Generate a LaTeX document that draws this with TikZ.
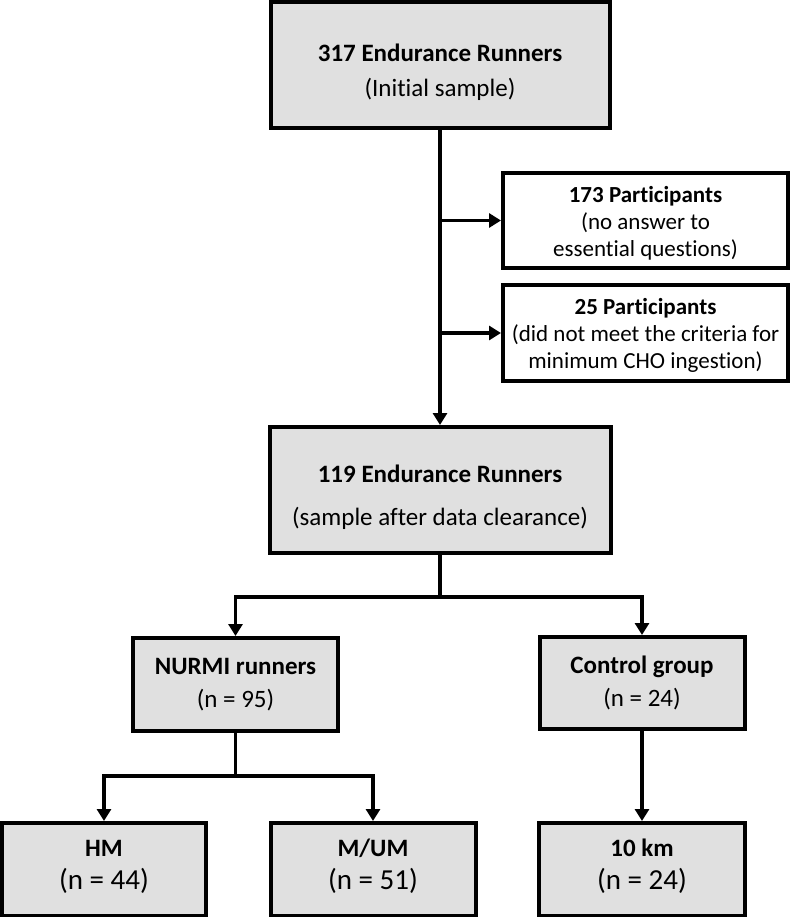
\documentclass[tikz,border=0pt]{standalone}
\usepackage{fontspec}
\setmainfont{Carlito}[Ligatures=NoCommon]
\usetikzlibrary{arrows.meta}
\definecolor{boxgray}{RGB}{224,224,224}
\newcommand{\nline}[1]{{\fontsize{29}{33}\selectfont #1}}
\begin{document}
\begin{tikzpicture}[x=1pt,y=-1pt,
 graybox/.style={draw=black, line width=4pt, fill=boxgray, inner sep=0pt, align=center},
 whitebox/.style={draw=black, line width=4pt, fill=white, inner sep=0pt, align=center},
 conn/.style={line width=3.5pt},
 arr/.style={line width=3.5pt, -{Triangle[width=14pt,length=12pt]}},
 bigfont/.style={font=\fontsize{25}{33}\selectfont, align=center},
 sidefont/.style={font=\fontsize{23}{27}\selectfont, align=center}]
\useasboundingbox (0,0) rectangle (790,917);

% top box
\node[graybox, minimum width=339pt, minimum height=126pt] (top) at (440,65) {};
\node[bigfont] (toptxt) at (440,72) {\textbf{317 Endurance Runners}\\[2pt](Initial sample)};

% exclusion boxes
\node[whitebox, minimum width=285pt, minimum height=95pt] (ex1) at (645.5,220.5) {};
\node[sidefont] (ex1txt) at (645.5,223)
  {\textbf{173 Participants}\\(no answer to\\essential questions)};
\node[whitebox, minimum width=285pt, minimum height=96pt] (ex2) at (645.5,333) {};
\node[sidefont] (ex2txt) at (645.5,335.5)
  {\textbf{25 Participants}\\(did not meet the criteria for\\minimum CHO ingestion)};

% after clearance
\node[graybox, minimum width=341pt, minimum height=126pt] (mid) at (440,490) {};
\node[bigfont] (midtxt) at (440,497) {\textbf{119 Endurance Runners}\\[10pt](sample after data clearance)};

% groups
\node[graybox, bigfont, minimum width=205pt, minimum height=93pt] (nurmi) at (235.5,684.5)
  {\textbf{NURMI runners}\\(n = 95)};
\node[graybox, bigfont, minimum width=205pt, minimum height=92pt] (ctrl) at (642,683)
  {\textbf{Control group}\\(n = 24)};

% bottom boxes
\node[graybox, minimum width=204pt, minimum height=93pt] (hm) at (104,869.5) {};
\node[bigfont] (hmtxt) at (104,866.5) {\textbf{HM}\\\nline{(n = 44)}};
\node[graybox, minimum width=205pt, minimum height=93pt] (mum) at (373,869.5) {};
\node[bigfont] (mumtxt) at (373,866.5) {\textbf{M/UM}\\\nline{(n = 51)}};
\node[graybox, minimum width=206pt, minimum height=93pt] (tenk) at (642,869.5) {};
\node[bigfont] (tenktxt) at (642,866.5) {\textbf{10 km}\\\nline{(n = 24)}};

% connectors
\draw[arr] (top.south) -- (mid.north);
\draw[arr] (top.south |- ex1.west) -- (ex1.west);
\draw[arr] (top.south |- ex2.west) -- (ex2.west);

\coordinate (split1) at (440,597);
\draw[conn] (mid.south) -- (split1);
\draw[arr] (split1) -| (nurmi.north);
\draw[arr] (split1) -| (ctrl.north);

\coordinate (split2) at (235.5,776);
\draw[conn] (nurmi.south) -- (split2);
\draw[arr] (split2) -| (hm.north);
\draw[arr] (split2) -| (mum.north);

\draw[arr] (ctrl.south) -- (tenk.north);
\end{tikzpicture}
\end{document}
